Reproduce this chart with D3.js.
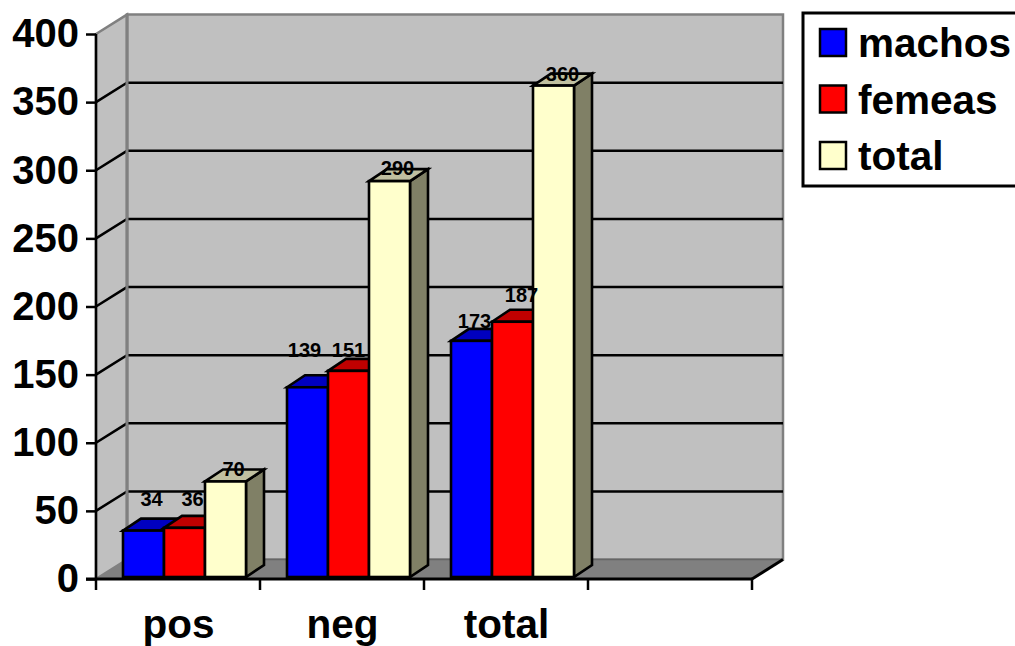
<!DOCTYPE html>
<html>
<head>
<meta charset="utf-8">
<script src="https://cdn.jsdelivr.net/npm/d3@7"></script>
<style>
  html, body { margin: 0; padding: 0; background: #fff; overflow: hidden; }
  svg { display: block; }
  text { font-family: "Liberation Sans", Arial, sans-serif; font-weight: bold; fill: #000; }
</style>
</head>
<body>
<svg id="chart" width="1015" height="646"></svg>
<script>
// Survey counts per group
const categories = ["pos", "neg", "total"];
const seriesNames = ["machos", "femeas", "total"];
const machos = [34, 139, 173];
const femeas = [36, 151, 187];
const totals = [70, 290, 360];
const yTicks = [0, 50, 100, 150, 200, 250, 300, 350, 400];

// Face colours per series: front, top, side
const faces = [
  { front: "#0000FF", top: "#0000C0", side: "#000080" },
  { front: "#FF0000", top: "#C00000", side: "#800000" },
  { front: "#FFFFCC", top: "#C0C0A0", side: "#808066" }
];

// Hand-placed data label nudges (dx from bar centre, dy from bar top), per series then category
const labelNudge = [
  [[9, -32], [-2, -37], [4, -20]],
  [[9, -29], [1, -21], [10, -27]],
  [[9, -12], [9, -13], [10, -12]]
];

const svg = d3.select("#chart");
const series = [machos, femeas, totals];

// Oblique projection: the back wall sits up and to the right of the front plane
const depth = { x: 31, y: -19.4 };
const barDepth = { x: 18, y: -12 };

const y = d3.scaleLinear().domain([0, 400]).range([579, 34]);
const yBar = d3.scaleLinear().domain([0, 400]).range([577, 31]);
const x = d3.scaleBand().domain([...categories, ""]).range([96, 752]);
const xInner = d3.scaleBand().domain(d3.range(3)).range([27, 150]);

const poly = pts => pts.map(p => p.join(",")).join(" ");
const [x0, x1] = x.range();
const yTop = y(400), yBase = y(0);

// Back wall, side wall and floor
svg.append("polygon")
  .attr("points", poly([[x0 + depth.x, yTop + depth.y], [x1 + depth.x, yTop + depth.y], [x1 + depth.x, yBase + depth.y], [x0 + depth.x, yBase + depth.y]]))
  .attr("fill", "#C0C0C0").attr("stroke", "#808080").attr("stroke-width", 2.5);
svg.append("polygon")
  .attr("points", poly([[x0, yTop], [x0 + depth.x, yTop + depth.y], [x0 + depth.x, yBase + depth.y], [x0, yBase]]))
  .attr("fill", "#C0C0C0").attr("stroke", "#808080").attr("stroke-width", 2.5);
svg.append("polygon")
  .attr("points", poly([[x0, yBase], [x1, yBase], [x1 + depth.x, yBase + depth.y], [x0 + depth.x, yBase + depth.y]]))
  .attr("fill", "#808080");
svg.append("line")
  .attr("x1", x0 + depth.x).attr("x2", x1 + depth.x)
  .attr("y1", yBase + depth.y).attr("y2", yBase + depth.y)
  .attr("stroke", "#666").attr("stroke-width", 1.5);

// Gridlines run along the side wall and across the back wall
const inner = yTicks.filter(t => t > 0 && t < 400);
const grid = svg.append("g").attr("fill", "none").attr("stroke", "#000").attr("stroke-width", 2.5);
grid.selectAll("polyline").data(inner).join("polyline")
  .attr("points", t => poly([[x0, y(t)], [x0 + depth.x, y(t) + depth.y], [x1 + depth.x, y(t) + depth.y]]));

// Wall frame redrawn over the gridlines
svg.append("line")
  .attr("x1", x0 + depth.x).attr("x2", x0 + depth.x)
  .attr("y1", yTop + depth.y).attr("y2", yBase + depth.y)
  .attr("stroke", "#808080").attr("stroke-width", 3);

// Bars: front, top and side faces
const bars = svg.append("g").attr("stroke", "#000").attr("stroke-width", 2.6).attr("stroke-linejoin", "miter");
categories.forEach((c, ci) => {
  series.forEach((vals, si) => {
    const left = x(c) + xInner(si);
    const right = left + xInner.bandwidth();
    const top = yBar(vals[ci]);
    const bottom = yBar(0);
    const g = bars.append("g");
    g.append("polygon")
      .attr("points", poly([[right, top], [right + barDepth.x, top + barDepth.y], [right + barDepth.x, bottom + barDepth.y], [right, bottom]]))
      .attr("fill", faces[si].side);
    g.append("polygon")
      .attr("points", poly([[left, top], [left + barDepth.x, top + barDepth.y], [right + barDepth.x, top + barDepth.y], [right, top]]))
      .attr("fill", faces[si].top);
    g.append("rect")
      .attr("x", left).attr("y", top)
      .attr("width", right - left).attr("height", bottom - top)
      .attr("fill", faces[si].front);
  });
});

// Value labels
const labels = svg.append("g").attr("text-anchor", "middle").attr("font-size", 20);
categories.forEach((c, ci) => {
  series.forEach((vals, si) => {
    const [dx, dy] = labelNudge[si][ci];
    labels.append("text")
      .attr("x", x(c) + xInner(si) + xInner.bandwidth() / 2 + dx - 1)
      .attr("y", yBar(vals[ci]) + dy)
      .attr("dy", "0.35em")
      .text(vals[ci]);
  });
});

// Value axis, using d3's own tick generation
const yAxis = d3.axisLeft(y).tickValues(yTicks).tickSize(10).tickPadding(7);
const yG = svg.append("g").attr("transform", `translate(${x0},0)`).call(yAxis);
yG.selectAll("path,line").attr("stroke", "#000").attr("stroke-width", 2.5);
yG.select(".domain").attr("d", `M0,${yTop}V${yBase}`);
yG.attr("font-family", null).attr("font-size", null);
yG.selectAll("text").attr("font-size", 40);

// Category axis with ticks on the band edges
const xG = svg.append("g").attr("transform", `translate(0,${yBase})`);
xG.append("line").attr("x1", x0 - 10).attr("x2", x1).attr("stroke", "#000").attr("stroke-width", 3);
xG.selectAll("line.tick").data([...x.domain().map(d => x(d)), x1]).join("line")
  .attr("class", "tick").attr("x1", d => d).attr("x2", d => d).attr("y1", 0).attr("y2", 11)
  .attr("stroke", "#000").attr("stroke-width", 2.5);
xG.selectAll("text").data(categories).join("text")
  .attr("x", d => x(d) + x.bandwidth() / 2 + 0.5)
  .attr("y", 59)
  .attr("text-anchor", "middle").attr("font-size", 40.5)
  .text(d => d);
svg.append("line")
  .attr("x1", x1).attr("y1", yBase).attr("x2", x1 + depth.x).attr("y2", yBase + depth.y)
  .attr("stroke", "#000").attr("stroke-width", 3);

// Legend
const legend = svg.append("g");
legend.append("rect").attr("x", 803).attr("y", 13).attr("width", 240).attr("height", 173)
  .attr("fill", "#fff").attr("stroke", "#000").attr("stroke-width", 3);
const legendY = d3.scalePoint().domain(seriesNames).range([43, 156]);
seriesNames.forEach((name, i) => {
  legend.append("rect")
    .attr("x", 820).attr("y", legendY(name) - 14)
    .attr("width", 26).attr("height", 27)
    .attr("fill", faces[i].front).attr("stroke", "#000").attr("stroke-width", 2.5);
  legend.append("text")
    .attr("x", 858).attr("y", legendY(name))
    .attr("dy", "0.35em").attr("font-size", 40.5)
    .text(name);
});
</script>
</body>
</html>
